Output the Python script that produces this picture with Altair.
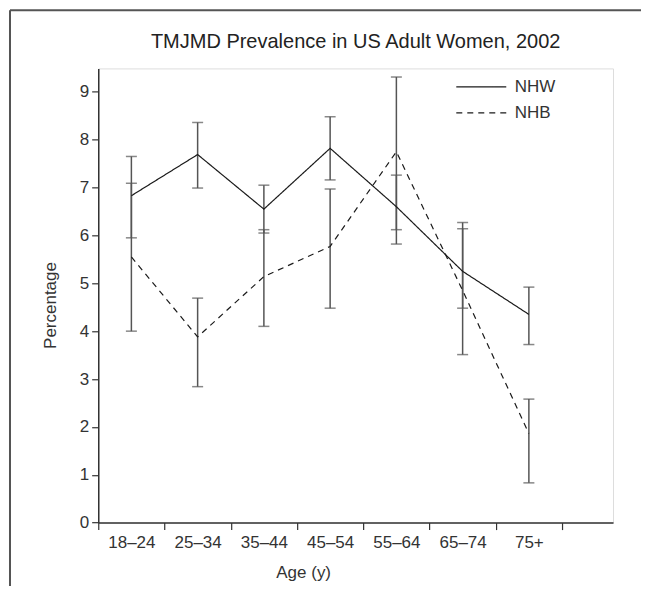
import altair as alt
import pandas as pd

ages = ["18–24", "25–34", "35–44", "45–54", "55–64", "65–74", "75+"]
groups = ["NHW", "NHB"]
nhw = [6.83, 7.69, 6.55, 7.82, 6.60, 5.25, 4.35]
nhw_lo = [5.95, 6.99, 6.05, 7.16, 6.12, 4.48, 3.72]
nhw_hi = [7.65, 8.36, 7.05, 8.48, 7.26, 6.14, 4.92]
nhb = [5.55, 3.88, 5.14, 5.77, 7.75, 4.85, 1.86]
nhb_lo = [4.00, 2.84, 4.10, 4.48, 5.82, 3.51, 0.83]
nhb_hi = [7.09, 4.69, 6.12, 6.97, 9.31, 6.27, 2.58]
y_ticks = list(range(10))

rows = []
for g, vals, los, his in [("NHW", nhw, nhw_lo, nhw_hi), ("NHB", nhb, nhb_lo, nhb_hi)]:
    for i, a in enumerate(ages):
        rows.append({"age": a, "pos": i + 0.5, "group": g, "val": vals[i], "lo": los[i], "hi": his[i]})
df = pd.DataFrame(rows)

W, H = 515, 454.4
FONT = "Liberation Sans"
TXT = "#333333"

label_expr = ""
for i, a in enumerate(ages):
    label_expr += f"datum.value == {i + 0.5} ? '{a}' : "
label_expr += "''"
half_vals = [i + 0.5 for i in range(len(ages))]
edge_vals = list(range(len(ages) + 1))

def xscale():
    return alt.Scale(domain=[0, 7.77], nice=False, zero=False)

yscale = alt.Scale(domain=[0, 9.49], nice=False)

xaxis_labels = alt.Axis(
    orient="bottom", values=half_vals, labelExpr=label_expr,
    ticks=False, domain=False, grid=False, labelOverlap=False, labelFlush=False,
    labelPadding=12, labelFontSize=17, labelFont=FONT, labelColor=TXT,
    title="Age (y)", titleFont=FONT, titleFontSize=17, titleFontWeight="normal", titleColor=TXT,
    titleX=205, titleY=50, titleBaseline="middle",
)
xaxis_ticks = alt.Axis(
    orient="bottom", values=edge_vals, labels=False, grid=False, title=None,
    tickSize=7, tickColor="#333", tickWidth=1.2,
    domainColor="#333", domainWidth=1.5,
)
yaxis = alt.Axis(
    values=y_ticks, grid=False, format="d",
    tickSize=6.6, tickColor="#333", tickWidth=1.2,
    labelPadding=3, labelFontSize=17, labelFont=FONT, labelColor=TXT,
    domainColor="#333", domainWidth=1.5,
    title="Percentage", titleFont=FONT, titleFontSize=17, titleFontWeight="normal", titleColor=TXT,
    titleX=-48, titleY=236.7, titleBaseline="middle", titleAngle=270,
)

base = alt.Chart(df)

lines = base.mark_line(color="#1a1a1a", strokeWidth=1.2).encode(
    x=alt.X("pos:Q", scale=xscale(), axis=xaxis_labels),
    y=alt.Y("val:Q", scale=yscale, axis=yaxis),
    strokeDash=alt.StrokeDash(
        "group:N",
        scale=alt.Scale(domain=groups, range=[[1, 0], [6, 5]]),
        legend=alt.Legend(
            title=None, orient="none", legendX=374.7, legendY=10, padding=0,
            symbolType="M-5,0H5", symbolSize=100, symbolStrokeColor="#1a1a1a",
            symbolStrokeWidth=1.2, labelFontSize=17, labelFont=FONT, labelColor=TXT,
            labelOffset=25, rowPadding=8,
        ),
    ),
    detail="group:N",
)

rules = base.mark_rule(color="#555555", strokeWidth=1.5).encode(
    x=alt.X("pos:Q", scale=xscale(), axis=xaxis_ticks), y="lo:Q", y2="hi:Q"
)
caps_lo = base.mark_tick(color="#555555", orient="horizontal", size=11, thickness=1.5).encode(
    x=alt.X("pos:Q", scale=xscale(), axis=None), y="lo:Q"
)
caps_hi = base.mark_tick(color="#555555", orient="horizontal", size=11, thickness=1.5).encode(
    x=alt.X("pos:Q", scale=xscale(), axis=None), y="hi:Q"
)

frame_left = alt.Chart(pd.DataFrame({"k": [0]})).mark_rule(color="#555555", strokeWidth=2).encode(
    x=alt.value(-88.3), y=alt.value(-58.3), y2=alt.value(H + 80)
)
frame_top = alt.Chart(pd.DataFrame({"k": [0]})).mark_rule(color="#555555", strokeWidth=2).encode(
    x=alt.value(-88.3), x2=alt.value(W + 40), y=alt.value(-58.3)
)

chart = alt.layer(frame_left, frame_top, rules, caps_lo, caps_hi, lines).resolve_scale(
    x="independent"
).properties(
    width=W, height=H,
    title=alt.TitleParams(
        "TMJMD Prevalence in US Adult Women, 2002", font=FONT, fontSize=20,
        fontWeight="normal", color="#222222", anchor="middle", baseline="middle", offset=-52.4,
    ),
    autosize=alt.AutoSizeParams(type="none"),
    padding={"left": 90.3, "top": 60.3, "right": 28, "bottom": 63},
).configure_view(stroke="#333333", strokeWidth=1.5).configure(background="white")

chart.save("out.html", embed_options={"renderer": "svg", "actions": False})
